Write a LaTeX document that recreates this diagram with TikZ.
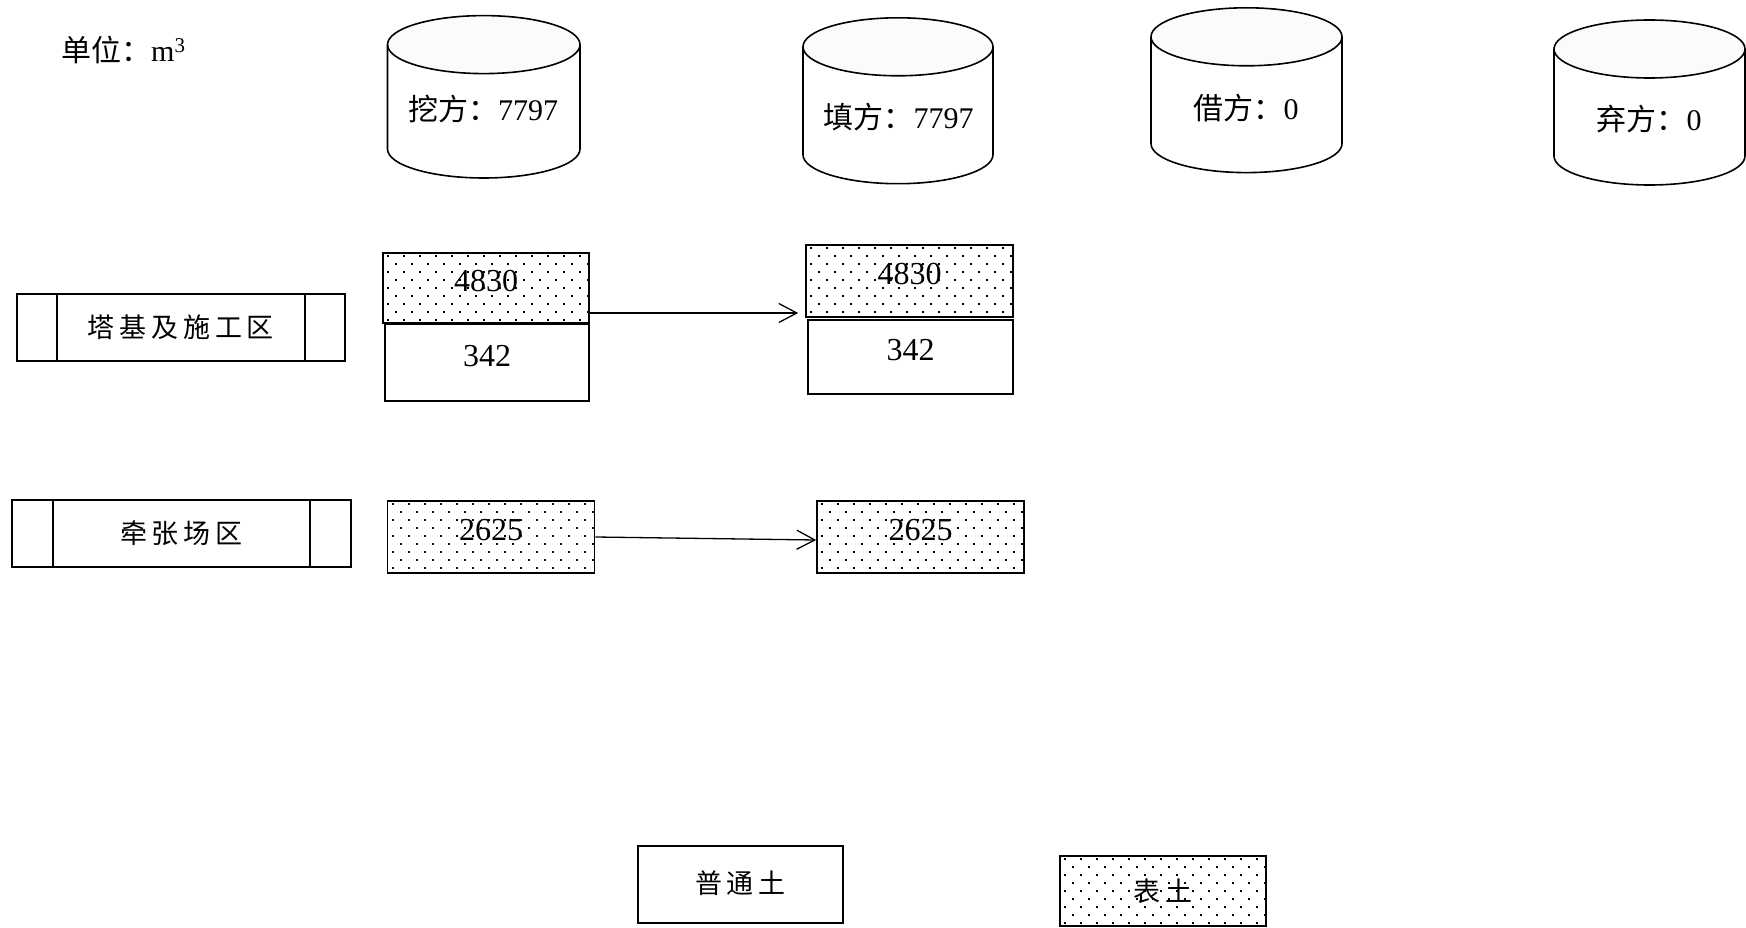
\documentclass[tikz,border=0pt]{standalone}
\usepackage{fontspec}
\setmainfont{Liberation Serif}
\newfontfamily\cjk{Noto Sans CJK SC}
\newfontfamily\cjksp[LetterSpace=18]{Noto Sans CJK SC}
\usetikzlibrary{arrows.meta,calc}
\newcommand\dotsinto[1]{%
  \begin{scope}
    \clip (#1.south west) rectangle (#1.north east);
    \foreach \i in {0,...,14}{\foreach \j in {0,...,10}{%
      \fill ($(#1.north west)+({\i*16+mod(\j,2)*8+5},{\j*8+3})$) rectangle +(2,2);}}
  \end{scope}}
\tikzset{
  line/.style={line width=1.6pt, black},
  soil/.style={line, rectangle, inner sep=0pt, font=\fontsize{32}{32}\selectfont, text depth=14pt},
  zone/.style={line, rectangle, inner sep=0pt, font=\cjksp\fontsize{27}{27}\selectfont},
  cyltext/.style={font=\fontsize{30}{30}\selectfont, inner sep=0pt},
  cyltop/.style={line, fill=black!1.5},
  arr/.style={line width=1.3pt, -{Straight Barb[length=18pt,width=19pt,line width=1.3pt]}},
}
\begin{document}
\begin{tikzpicture}[x=1pt,y=-1pt]
\useasboundingbox (0,0) rectangle (1746,928);

% unit
\node[cyltext, anchor=west] (unit) at (61,50) {{\cjk 单位：}m\textsuperscript{3}};

% cylinders
\draw[cyltop] (483.75,44.6) ellipse[x radius=96.25, y radius=29];
\draw[line] (387.5,44.6) -- (387.5,149) arc[start angle=180,end angle=0,x radius=96.25,y radius=29] -- (580,44.6);
\node[cyltext] (c1) at (483,109) {{\cjk 挖方：}7797};

\draw[cyltop] (898,46.8) ellipse[x radius=95, y radius=29];
\draw[line] (803,46.8) -- (803,154.7) arc[start angle=180,end angle=0,x radius=95,y radius=29] -- (993,46.8);
\node[cyltext] (c2) at (898.6,117) {{\cjk 填方：}7797};

\draw[cyltop] (1246.5,36.8) ellipse[x radius=95.5, y radius=29];
\draw[line] (1151,36.8) -- (1151,143.6) arc[start angle=180,end angle=0,x radius=95.5,y radius=29] -- (1342,36.8);
\node[cyltext] (c3) at (1246,108) {{\cjk 借方：}0};

\draw[cyltop] (1649.5,49) ellipse[x radius=95.5, y radius=29];
\draw[line] (1554,49) -- (1554,156) arc[start angle=180,end angle=0,x radius=95.5,y radius=29] -- (1745,49);
\node[cyltext] (c4) at (1649,119) {{\cjk 弃方：}0};

% zones
\node[zone, draw, minimum width=328.3pt, minimum height=67pt] (z1) at (180.85,327.5) {塔基及施工区};
\draw[line] ([xshift=41.3pt]z1.north west) -- ([xshift=41.3pt]z1.south west);
\draw[line] ([xshift=-41pt]z1.north east) -- ([xshift=-41pt]z1.south east);

\node[zone, draw, minimum width=339.3pt, minimum height=67pt] (z2) at (181.35,533.5) {牵张场区};
\draw[line] ([xshift=42.3pt]z2.north west) -- ([xshift=42.3pt]z2.south west);
\draw[line] ([xshift=-42pt]z2.north east) -- ([xshift=-42pt]z2.south east);

% excavation / fill boxes
\node[soil, minimum width=206pt, minimum height=70pt] (e1t) at (486,288) {};
\dotsinto{e1t}
\node[soil, draw, minimum width=206pt, minimum height=70pt] at (486,288) {4830};
\node[soil, draw, minimum width=204pt, minimum height=77pt] (e1b) at (487,362.5) {342};

\node[soil, minimum width=207pt, minimum height=72pt] (f1t) at (909.5,281) {};
\dotsinto{f1t}
\node[soil, draw, minimum width=207pt, minimum height=72pt] at (909.5,281) {4830};
\node[soil, draw, minimum width=205pt, minimum height=74pt] (f1b) at (910.5,357) {342};

\node[soil, minimum width=207pt, minimum height=72pt] (e2) at (491,537) {};
\dotsinto{e2}
\node[soil, draw, minimum width=207pt, minimum height=72pt] at (491,537) {2625};

\node[soil, minimum width=207pt, minimum height=72pt] (f2) at (920.5,537) {};
\dotsinto{f2}
\node[soil, draw, minimum width=207pt, minimum height=72pt] at (920.5,537) {2625};

% arrows
\draw[arr, shorten >=7pt] (e1t.east |- 0,313) -- (f1t.west |- 0,313);
\draw[arr] (e2.east) -- ([yshift=-3pt]f2.west);

% legend
\node[zone, draw, minimum width=205pt, minimum height=77pt, text depth=4pt] (l1) at (740.5,884.5) {普通土};
\node[zone, minimum width=206pt, minimum height=70pt] (l2) at (1163,891) {};
\dotsinto{l2}
\node[zone, draw, minimum width=206pt, minimum height=70pt] at (1163,891) {表土};
\end{tikzpicture}
\end{document}
